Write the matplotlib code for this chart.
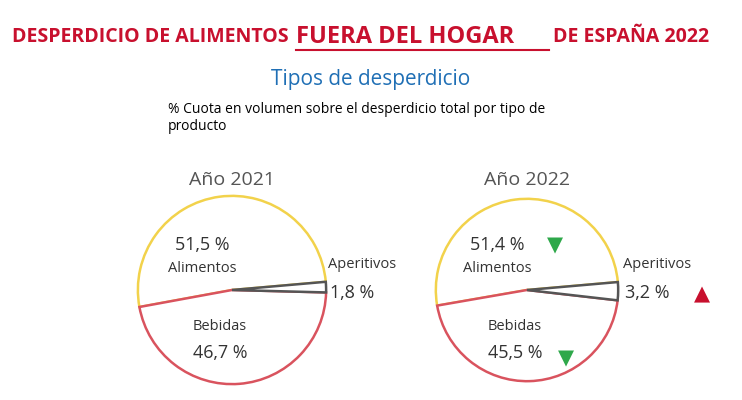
import matplotlib
matplotlib.use("Agg")
import matplotlib.pyplot as plt

categories = ["Alimentos", "Bebidas", "Aperitivos"]
years = ["Año 2021", "Año 2022"]
values_2021 = [51.5, 46.7, 1.8]
values_2022 = [51.4, 45.5, 3.2]
labels_2021 = ["51,5 %", "46,7 %", "1,8 %"]
labels_2022 = ["51,4 %", "45,5 %", "3,2 %"]

W, H = 742, 400
fig = plt.figure(figsize=(W/100, H/100), dpi=100)
fig.patch.set_facecolor("white")
font = "Open Sans"
red = "#c8102e"
edges = ["#f2d24b", "#d9535e", "#555555"]

fig.text(12/W, 1-37/H, "DESPERDICIO DE ALIMENTOS ", color=red, fontsize=14, fontweight="bold", family=font, va="center")
fig.text(296/W, 1-37/H, "FUERA DEL HOGAR", color=red, fontsize=17, fontweight="bold", family=font, va="center")
fig.add_artist(plt.Line2D([296/W, 549/W], [1-50/H, 1-50/H], color=red, lw=1.5))
fig.text(553/W, 1-37/H, "DE ESPAÑA 2022", color=red, fontsize=14, fontweight="bold", family=font, va="center")
fig.text(371/W, 1-80/H, "Tipos de desperdicio", color="#1f6fb5", fontsize=15, family=font, ha="center", va="center")
fig.text(168/W, 1-118/H, "% Cuota en volumen sobre el desperdicio total por tipo de\nproducto",
         color="black", fontsize=10, family=font, va="center", linespacing=1.2)

def draw(cx, cy, r, vals, labs, year, arrows):
    ax = fig.add_axes([(cx-r)/W, 1-(cy+r)/H, 2*r/W, 2*r/H])
    wedges, _ = ax.pie(vals, startangle=5, counterclock=True, colors=["white"]*3,
                       wedgeprops=dict(linewidth=1.8))
    for w, c in zip(wedges, edges):
        w.set_edgecolor(c)
    ax.set_xlim(-1.02, 1.02); ax.set_ylim(-1.02, 1.02)
    ax.axis("off")
    def t(x, y, s, color="#333333", **k):
        fig.text(x/W, 1-y/H, s, family=font, color=color, va="center", **k)
    t(cx, 180, year, fontsize=14, ha="center", color="#555555")
    t(cx-30, 245, labs[0], fontsize=13, ha="center")
    t(cx-30, 269, categories[0], fontsize=10.5, ha="center")
    t(cx-12, 327, categories[1], fontsize=10.5, ha="center")
    t(cx-12, 353, labs[1], fontsize=13, ha="center")
    t(cx+130, 264, categories[2], fontsize=10.5, ha="center")
    t(cx+120, 293, labs[2], fontsize=13, ha="center")
    for (x, y, up, col) in arrows:
        fig.text(x/W, 1-y/H, "▲" if up else "▼", color=col, fontsize=15, ha="center", va="center", family="DejaVu Sans")

draw(232, 290, 96, values_2021, labels_2021, years[0], [])
draw(527, 290, 93, values_2022, labels_2022, years[1],
     [(555, 245, False, "#2ea84a"), (566, 358, False, "#2ea84a"), (702, 294, True, red)])

fig.savefig("out.png", dpi=100)
